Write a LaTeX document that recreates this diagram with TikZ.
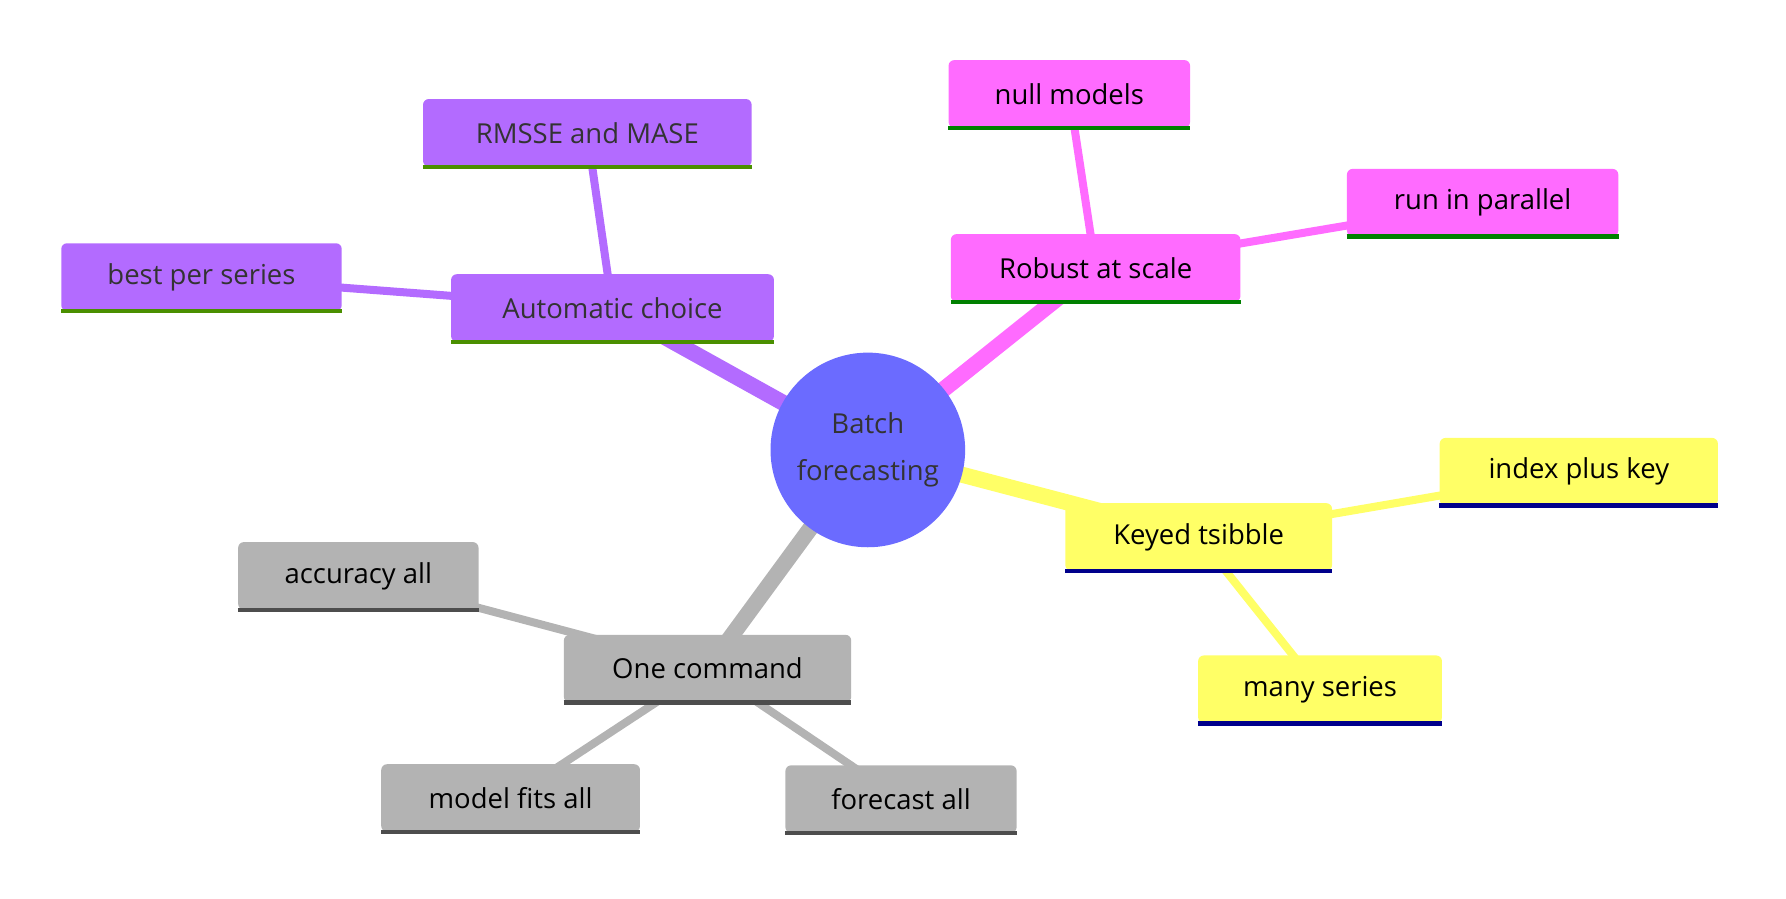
\documentclass[tikz,border=0pt]{standalone}
\usepackage{fontspec}
\setmainfont{Open Sans}
\usetikzlibrary{backgrounds}
\definecolor{rootc}{HTML}{6B6BFF}
\definecolor{purp}{HTML}{B36BFF}
\definecolor{pink}{HTML}{FF6BFF}
\definecolor{yell}{HTML}{FFFF66}
\definecolor{grey}{HTML}{B3B3B3}
\definecolor{ulpurp}{HTML}{4A8F00}
\definecolor{ulpink}{HTML}{008000}
\definecolor{ulyell}{HTML}{00008B}
\definecolor{ulgrey}{HTML}{4D4D4D}
\tikzset{
  topic/.style={rounded corners=5pt, minimum height=59pt, inner xsep=0pt, font=\fontsize{24}{28}\selectfont},
  edge/.style={line width=#1},
}
\begin{document}
\begin{tikzpicture}[x=1pt, y=-1pt]
    \useasboundingbox (0,0) rectangle (1560,785);
    \node[circle, fill=rootc, minimum size=170pt, text=black!80, align=center, font=\fontsize{24}{41}\selectfont] (root) at (758,393) {Batch\\forecasting};
    % purple branch
    \node[topic, fill=purp, text=black!80, minimum width=282pt] (auto) at (535,269) {Automatic choice};
    \node[topic, fill=purp, text=black!80, minimum width=287pt] (rmsse) at (513,116) {RMSSE and MASE};
    \node[topic, fill=purp, text=black!80, minimum width=245pt] (best) at (176,242) {best per series};
    % pink branch
    \node[topic, fill=pink, minimum width=253pt] (robust) at (957,234) {Robust at scale};
    \node[topic, fill=pink, minimum width=211pt] (null) at (934,82) {null models};
    \node[topic, fill=pink, minimum width=237pt] (par) at (1295,177) {run in parallel};
    % yellow branch
    \node[topic, fill=yell, minimum width=233pt] (keyed) at (1047,469) {Keyed tsibble};
    \node[topic, fill=yell, minimum width=243pt] (index) at (1379,412) {index plus key};
    \node[topic, fill=yell, minimum width=213pt] (many) at (1153,602) {many series};
    % grey branch
    \node[topic, fill=grey, minimum width=251pt] (one) at (618,584) {One command};
    \node[topic, fill=grey, minimum width=210pt] (acc) at (313,503) {accuracy all};
    \node[topic, fill=grey, minimum width=226pt] (fits) at (446,697) {model fits all};
    \node[topic, fill=grey, minimum width=202pt] (fc) at (787,698) {forecast all};
    \foreach \n/\c in {auto/ulpurp, rmsse/ulpurp, best/ulpurp, robust/ulpink, null/ulpink, par/ulpink,
      keyed/ulyell, index/ulyell, many/ulyell, one/ulgrey, acc/ulgrey, fits/ulgrey, fc/ulgrey}
      \draw[\c, line width=4pt] (\n.south west) -- (\n.south east);
    \begin{scope}[on background layer]
      \draw[purp, edge=14pt] (root.center) -- (auto.center);
      \draw[purp, edge=7pt] (auto.center) -- (rmsse.center) (auto.center) -- (best.center);
      \draw[pink, edge=14pt] (root.center) -- (robust.center);
      \draw[pink, edge=7pt] (robust.center) -- (null.center) (robust.center) -- (par.center);
      \draw[yell, edge=14pt] (root.center) -- (keyed.center);
      \draw[yell, edge=7pt] (keyed.center) -- (index.center) (keyed.center) -- (many.center);
      \draw[grey, edge=14pt] (root.center) -- (one.center);
      \draw[grey, edge=7pt] (one.center) -- (acc.center) (one.center) -- (fits.center) (one.center) -- (fc.center);
    \end{scope}
\end{tikzpicture}
\end{document}
